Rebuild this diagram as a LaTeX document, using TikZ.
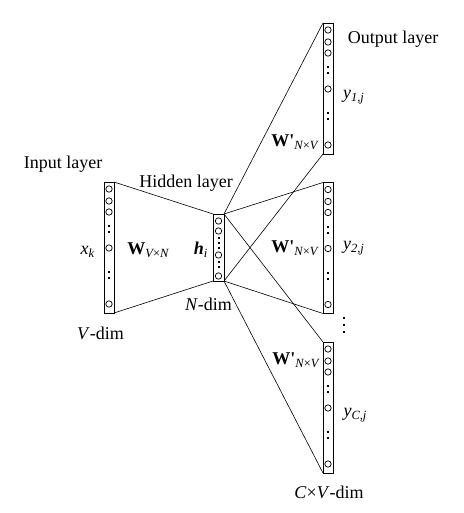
\documentclass[tikz,border=0pt]{standalone}
\usepackage{fontspec}
\setmainfont{Liberation Serif}
\newcommand\lowsub[1]{\raisebox{-0.35ex}{\fontsize{12.5}{13}\selectfont #1}}
\newcommand\Wprime{\textbf{W\textquotesingle}}
\begin{document}
\begin{tikzpicture}[x=1pt,y=-1pt,
  col/.style={draw, line width=0.9pt, rectangle, inner sep=0pt, outer sep=0pt, minimum width=10pt},
  tallcol/.style={col, minimum height=131pt},
  hidcol/.style={col, minimum width=11pt, minimum height=67pt},
  unit/.style={line width=0.7pt},
  lbl/.style={font=\fontsize{18}{20}\selectfont, inner sep=0pt},
  wire/.style={line width=0.6pt}]
\useasboundingbox (0,0) rectangle (463,513);
% columns
\node[tallcol] (in)   at (109,247.5) {};
\node[hidcol]  (hid)  at (218.5,247.5) {};
\node[tallcol] (out1) at (328,88.5) {};
\node[tallcol] (out2) at (328,248) {};
\node[tallcol] (out3) at (328,407.5) {};
% units in tall columns
\foreach \c in {in,out1,out2,out3}{
  \begin{scope}[shift={(\c.north)}]
    \foreach \r in {7,19,30,66,122} \draw[unit] (0,\r) circle (3.2pt);
    \foreach \r in {44,50,90,96} \fill (-1,{\r-1}) rectangle (1,{\r+1});
  \end{scope}
}
% units in hidden column
\begin{scope}[shift={(hid.north)}]
  \foreach \r in {7,17,41,62} \draw[unit] (0,\r) circle (3.2pt);
  \foreach \r in {24,29,34,48,53} \fill (-1,{\r-1}) rectangle (1,{\r+1});
\end{scope}
% wires
\draw[wire] (in.north east) -- (hid.north west);
\draw[wire] (in.south east) -- (hid.south west);
\foreach \o in {out1,out2,out3}{
  \draw[wire] (hid.north east) -- (\o.north west);
  \draw[wire] (hid.south east) -- (\o.south west);
}
% vertical ellipsis between output columns
\foreach \r in {318,325,332} \fill (343,{\r-1.1}) rectangle (345.2,{\r+1.1});
% labels
\node[lbl] (tin)  at (63,164) {Input layer};
\node[lbl] (thid) at (186,183) {Hidden layer};
\node[lbl] (tout) at (393,39) {Output layer};
\node[lbl] (xk)   at (87.5,252) {\itshape x\lowsub{k}};
\node[lbl] (W)    at (148,250) {\textbf{W}\lowsub{\itshape V\upshape×\itshape N}};
\node[lbl] (hi)   at (200.5,250) {\itshape\textbf{h}\lowsub{i}};
\node[lbl] (Nd)   at (208.5,304) {\textit{N}-dim};
\node[lbl] (Vd)   at (100.5,333) {\textit{V}-dim};
\node[lbl] (y1)   at (353.5,97) {\itshape y\lowsub{1,j}};
\node[lbl] (y2)   at (353.5,248) {\itshape y\lowsub{2,j}};
\node[lbl] (yC)   at (355,415) {\itshape y\lowsub{C,j}};
\node[lbl] (W1)   at (294.5,142) {\Wprime\lowsub{\itshape N\upshape×\itshape V}};
\node[lbl] (W2)   at (294.5,248) {\Wprime\lowsub{\itshape N\upshape×\itshape V}};
\node[lbl] (W3)   at (295.5,360) {\Wprime\lowsub{\itshape N\upshape×\itshape V}};
\node[lbl] (CVd)  at (329,492) {\textit{C}×\textit{V}-dim};
\end{tikzpicture}
\end{document}
